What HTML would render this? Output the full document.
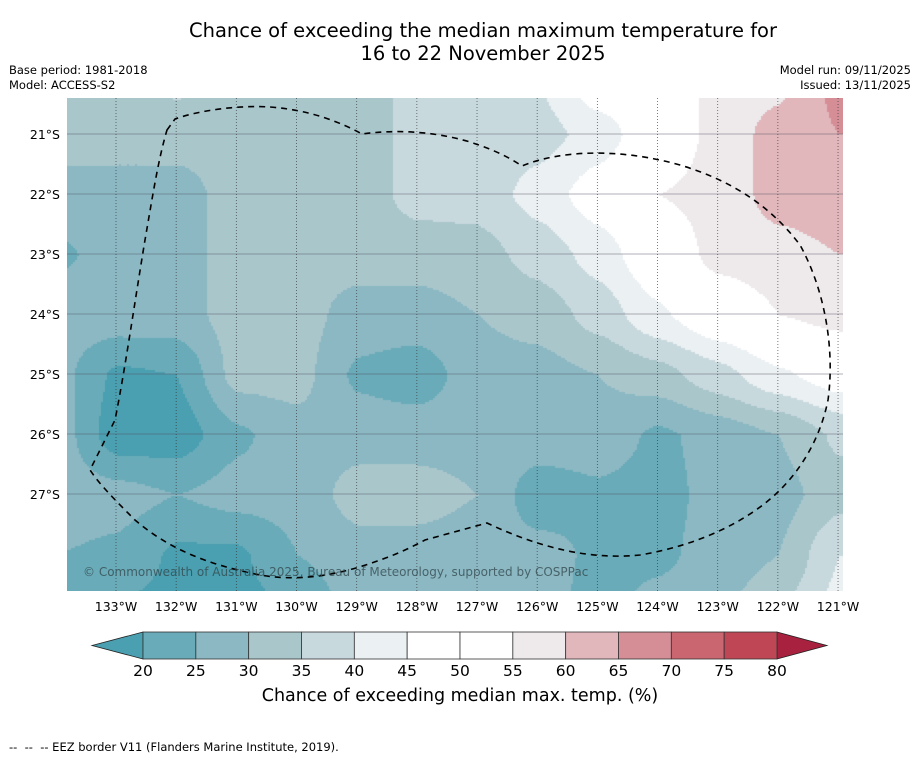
<!DOCTYPE html>
<html><head><meta charset="utf-8">
<style>
body{margin:0;background:#fff;font-family:"DejaVu Sans","Liberation Sans",sans-serif;}
#wrap{position:relative;width:919px;height:758px;overflow:hidden;background:#fff;}
.t{position:absolute;white-space:pre;color:#000;}
</style></head><body>
<div id="wrap">
<div class="t" style="left:0;width:966px;top:19px;text-align:center;font-size:19.5px;line-height:23px;">Chance of exceeding the median maximum temperature for
16 to 22 November 2025</div>
<div class="t" style="left:9px;top:63px;font-size:11.5px;line-height:15px;">Base period: 1981-2018
Model: ACCESS-S2</div>
<div class="t" style="right:8px;top:63px;font-size:11.5px;line-height:15px;text-align:right;">Model run: 09/11/2025
Issued: 13/11/2025</div>
<canvas id="map" width="776" height="493" style="position:absolute;left:67px;top:98px;"></canvas>
<svg id="ov" width="919" height="758" style="position:absolute;left:0;top:0;"></svg>
<div class="t" style="left:83px;top:565px;font-size:12px;color:rgba(50,70,75,0.75);">© Commonwealth of Australia 2025, Bureau of Meteorology, supported by COSPPac</div>
<div class="t" style="left:0;width:920px;top:686px;text-align:center;font-size:17.5px;">Chance of exceeding median max. temp. (%)</div>
<div class="t" style="left:9px;top:740px;font-size:11.5px;">--  --  -- EEZ border V11 (Flanders Marine Institute, 2019).</div>
</div>
<script>
// grid node longitudes (°W) and latitudes (°S)
const lons=[134,133,132,131,130,129,128,127,126,125,124,123,122,121];
const lats=[20,21,22,23,24,25,26,27,28,29];
const values=[
[32,32,37,32,32,32,37,37,40,50,50,57,58,67],
[32,32,32,32,32,32,37,37,38,42,50,57,62,65],
[28,28,28,32,32,32,37,37,42,48,55,57,62,63],
[24,27,28,32,32,32,32,33,37,42,50,57,58,60],
[28,28,28,32,32,28,28,30,32,37,44,50,55,57],
[27,19,20,32,32,24,22,28,28,30,33,38,44,48],
[28,17,17,24,28,28,28,28,28,28,24,27,30,36],
[28,27,25,27,27,32,32,30,22,24,23,27,28,33],
[25,24,19,19,25,28,28,27,27,24,24,27,30,40],
[19,19,18,18,20,27,27,27,27,23,27,29,35,42]];
const binEdges=[20,25,30,35,40,45,50,55,60,65,70,75,80];
const binColors=['#4a9fb0','#69abb8','#8bb8c3','#a9c6cb','#c8d9de','#ebf0f2','#ffffff','#ffffff','#eeeaeb','#e1b7bc','#d68e96','#c9666f','#bf4655','#a8213e'];
const cbTicks=[20,25,30,35,40,45,50,55,60,65,70,75,80];
const lonTicks=[133,132,131,130,129,128,127,126,125,124,123,122,121];
const latTicks=[21,22,23,24,25,26,27];

const X=lon=>116+(133-lon)*60.17;
const Y=lat=>134+(lat-21)*60;
const MX=67,MY=98,MW=776,MH=493;
function colorFor(v){let i=0;while(i<binEdges.length&&v>=binEdges[i])i++;return binColors[i];}
const ctx=document.getElementById('map').getContext('2d');
function valAt(lon,lat){
  let fi=(134-lon), fj=(lat-20);
  fi=Math.max(0,Math.min(lons.length-1.001,fi));fj=Math.max(0,Math.min(lats.length-1.001,fj));
  const i=Math.floor(fi),j=Math.floor(fj),a=fi-i,b=fj-j;
  const sa=a*a*(3-2*a), sb=b*b*(3-2*b);
  const a2=(a+sa)/2,b2=(b+sb)/2;
  return values[j][i]*(1-a2)*(1-b2)+values[j][i+1]*a2*(1-b2)+values[j+1][i]*(1-a2)*b2+values[j+1][i+1]*a2*b2;
}
const step=2;
for(let py=0;py<MH;py+=step){for(let px=0;px<MW;px+=step){
  const lon=133-((px+MX)-116)/60.17, lat=21+((py+MY)-134)/60;
  ctx.fillStyle=colorFor(valAt(lon,lat));ctx.fillRect(px,py,step,step);
}}
const NS='http://www.w3.org/2000/svg';
const ov=document.getElementById('ov');
function mk(tag,attrs){const e=document.createElementNS(NS,tag);for(const k in attrs)e.setAttribute(k,attrs[k]);ov.appendChild(e);return e;}
lonTicks.forEach(l=>{
  const ln=mk('line',{x1:X(l),x2:X(l),y1:MY,y2:MY+MH,stroke:'#333','stroke-width':0.8,'stroke-dasharray':'1,2',opacity:0.8});
  
  
  const t=mk('text',{x:X(l),y:611,'text-anchor':'middle','font-size':12.5,'font-family':'DejaVu Sans, sans-serif'});
  t.textContent=l+'°W';
  
  
});
latTicks.forEach(l=>{
  const ln=mk('line',{x1:MX,x2:MX+MW,y1:Y(l),y2:Y(l),stroke:'#556','stroke-width':0.7,opacity:0.6});
  
  
  const t=mk('text',{x:60,y:Y(l)+5,'text-anchor':'end','font-size':12.5,'font-family':'DejaVu Sans, sans-serif'});
  t.textContent=l+'°S';
  
  
});
const eez=mk('path',{d:'M167,130 L175,119 C200,110 240,105 270,107 C310,110 340,122 362,134 C390,130 430,130 470,142 C495,150 510,158 522,166 C560,150 620,148 680,165 C730,180 770,205 800,245 C825,290 835,350 828,400 C820,440 800,470 780,490 C750,520 700,545 640,555 C590,560 540,548 487,523 L425,540 C410,548 395,555 380,560 C340,575 300,582 260,575 C210,565 170,550 135,520 C115,500 100,485 90,470 L115,420 C125,370 135,300 145,240 C152,200 158,160 167,130 Z',fill:'none',stroke:'#000','stroke-width':1.6,'stroke-dasharray':'6,5'});


const cbX=v=>143+(v-20)*(634/60);
const cy=632,ch=27;
const lt=mk('polygon',{points:`92,${cy+ch/2} ${cbX(20)},${cy} ${cbX(20)},${cy+ch}`,fill:binColors[0],stroke:'#222','stroke-width':0.8});


const rt=mk('polygon',{points:`827,${cy+ch/2} ${cbX(80)},${cy} ${cbX(80)},${cy+ch}`,fill:binColors[13],stroke:'#222','stroke-width':0.8});


for(let i=0;i<cbTicks.length-1;i++){
  const r=mk('rect',{x:cbX(cbTicks[i]),y:cy,width:cbX(cbTicks[i+1])-cbX(cbTicks[i]),height:ch,fill:binColors[i+1],stroke:'#333','stroke-width':0.8});
  
  
}
cbTicks.forEach(v=>{
  const t=mk('text',{x:cbX(v),y:676,'text-anchor':'middle','font-size':15.5,'font-family':'DejaVu Sans, sans-serif'});
  t.textContent=v;
  
  
});
</script>
</body></html>
